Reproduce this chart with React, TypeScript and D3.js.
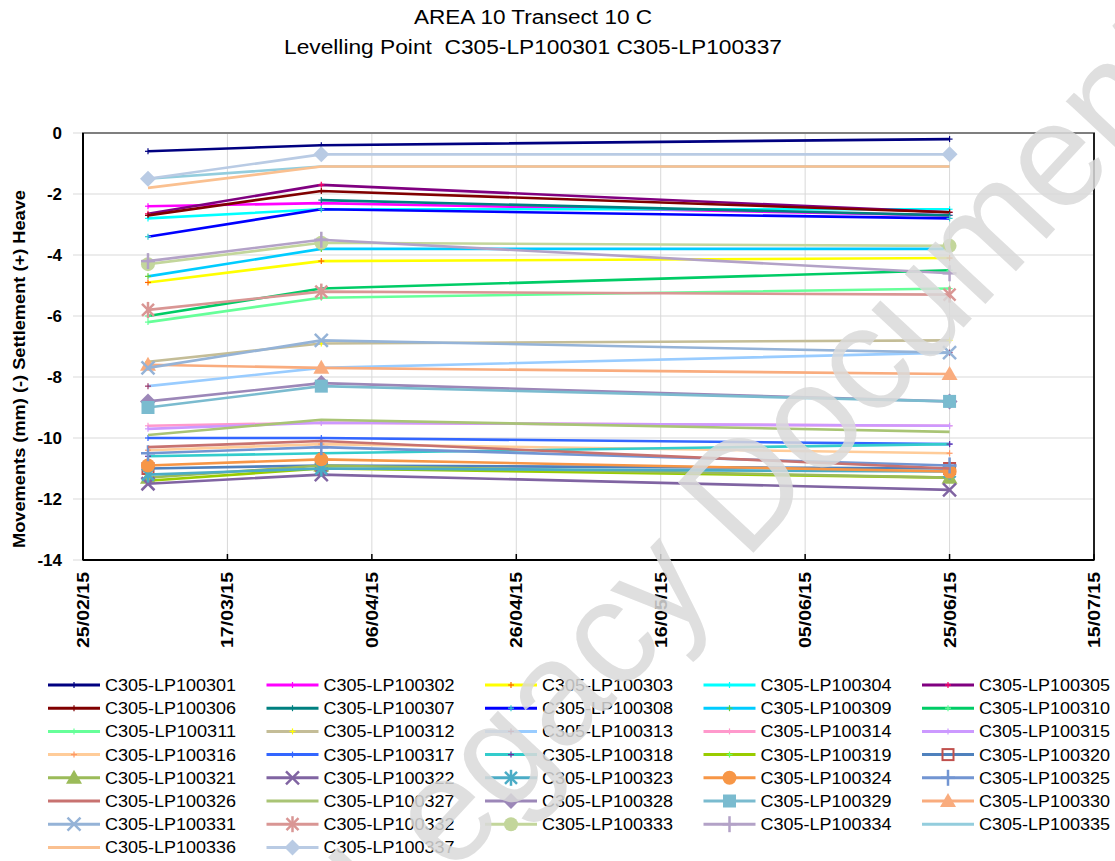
import React from 'react';
import * as d3 from 'd3';

// ---------------- DATA ----------------
const pointIds = [
  'C305-LP100301', 'C305-LP100302', 'C305-LP100303', 'C305-LP100304', 'C305-LP100305',
  'C305-LP100306', 'C305-LP100307', 'C305-LP100308', 'C305-LP100309', 'C305-LP100310',
  'C305-LP100311', 'C305-LP100312', 'C305-LP100313', 'C305-LP100314', 'C305-LP100315',
  'C305-LP100316', 'C305-LP100317', 'C305-LP100318', 'C305-LP100319', 'C305-LP100320',
  'C305-LP100321', 'C305-LP100322', 'C305-LP100323', 'C305-LP100324', 'C305-LP100325',
  'C305-LP100326', 'C305-LP100327', 'C305-LP100328', 'C305-LP100329', 'C305-LP100330',
  'C305-LP100331', 'C305-LP100332', 'C305-LP100333', 'C305-LP100334', 'C305-LP100335',
  'C305-LP100336', 'C305-LP100337',
];

const surveyDates = ['06/03/15', '30/03/15', '25/06/15'];

// movement (mm) per point, one array per survey date
const valuesSurvey1: (number | null)[] = [
  -0.6, -2.4, -4.9, -2.8, -2.65,
  -2.7, null, -3.4, -4.7, -6.0,
  -6.2, -7.5, -8.3, -9.6, -9.7,
  -10.4, -10.0, -10.6, -11.4, -11.0,
  -11.3, -11.5, -11.2, -10.9, -10.5,
  -10.3, -9.9, -8.8, -9.0, -7.6,
  -7.7, -5.8, -4.3, -4.2, -1.5,
  -1.8, -1.5,
];
const valuesSurvey2: (number | null)[] = [
  -0.4, -2.3, -4.2, -2.5, -1.7,
  -1.9, -2.2, -2.5, -3.8, -5.1,
  -5.4, -6.9, -7.7, -9.5, -9.5,
  -10.2, -10.0, -10.5, -11.0, -10.9,
  -10.9, -11.2, -11.0, -10.7, -10.3,
  -10.1, -9.4, -8.2, -8.3, -7.7,
  -6.8, -5.2, -3.6, -3.5, -1.1,
  -1.1, -0.7,
];
const valuesSurvey3: (number | null)[] = [
  -0.2, -2.7, -4.1, -2.5, -2.6,
  -2.6, -2.7, -2.8, -3.8, -4.5,
  -5.1, -6.8, -7.2, -9.6, -9.6,
  -10.5, -10.2, -10.2, -11.3, -11.0,
  -11.3, -11.7, -11.1, -11.1, -10.9,
  -11.0, -9.8, -8.8, -8.8, -7.9,
  -7.2, -5.3, -3.7, -4.6, -1.1,
  -1.1, -0.7,
];

const xTickLabels = ['25/02/15', '17/03/15', '06/04/15', '26/04/15', '16/05/15', '05/06/15', '25/06/15', '15/07/15'];
const yTickValues = [0, -2, -4, -6, -8, -10, -12, -14];

// ---------------- STYLES ----------------
const lineColors = [
  '#000080', '#FF00FF', '#FFFF00', '#00FFFF', '#800080',
  '#800000', '#008080', '#0000FF', '#00CCFF', '#00CC66',
  '#66FF99', '#C4BD97', '#99CCFF', '#FF99CC', '#CC99FF',
  '#FFCC99', '#3366FF', '#33CCCC', '#99CC00', '#4F81BD',
  '#9BBB59', '#8064A2', '#4BACC6', '#F79646', '#7295D2',
  '#C87270', '#A9C475', '#9C87B8', '#7ABBCF', '#F9AC7E',
  '#95B3D7', '#D99694', '#C3D69B', '#B3A2C7', '#93CDDD',
  '#FAC090', '#B9CBE4',
];
const markerKinds = [
  'tick', 'tick', 'tick', 'tick', 'tick',
  'tick', 'tick', 'tick', 'tick', 'tick',
  'tick', 'tick', 'tick', 'tick', 'tick',
  'tick', 'tick', 'tick', 'tick', 'opensquare',
  'triangle', 'x', 'asterisk', 'circle', 'plus',
  'none', 'none', 'diamond', 'square', 'triangle',
  'x', 'asterisk', 'circle', 'plus', 'none',
  'none', 'diamond',
];
const markerColors = [
  '#000080', '#FF00FF', '#FF6600', '#00FFFF', '#FF0066',
  '#800000', '#008080', '#33CCCC', '#66CC33', '#66FF99',
  '#66FF99', '#FFFF00', '#993366', '#FF99CC', '#CC99FF',
  '#FF9966', '#3366FF', '#7030A0', '#66FF66', '#C0504D',
  '#9BBB59', '#8064A2', '#4BACC6', '#F79646', '#7295D2',
  '#C87270', '#A9C475', '#9C87B8', '#7ABBCF', '#F9AC7E',
  '#95B3D7', '#D99694', '#C3D69B', '#B3A2C7', '#93CDDD',
  '#FAC090', '#B9CBE4',
];

// ---------------- LAYOUT ----------------
const W = 1115;
const H = 861;
const plot = { left: 83, right: 1094, top: 133, bottom: 560 };
const legend = { x0: 48, colW: 218.5, y0: 685, rowH: 23.2, lineLen: 52, cols: 5 };
const FONT = "'Liberation Sans', Arial, sans-serif";

const parseDate = d3.utcParse('%d/%m/%y');

function Marker({ kind, color, x, y }: { kind: string; color: string; x: number; y: number }) {
  switch (kind) {
    case 'tick':
      return (
        <g stroke={color} strokeWidth={1.2}>
          <line x1={x - 3} x2={x + 3} y1={y} y2={y} />
          <line x1={x} x2={x} y1={y - 3} y2={y + 3} />
        </g>
      );
    case 'opensquare':
      return <rect x={x - 5.5} y={y - 5.5} width={11} height={11} fill="none" stroke={color} strokeWidth={2} />;
    case 'square':
      return <rect x={x - 6.5} y={y - 6.5} width={13} height={13} fill={color} />;
    case 'circle':
      return <circle cx={x} cy={y} r={7} fill={color} />;
    case 'triangle':
      return <path d={`M${x},${y - 8}L${x + 8},${y + 6}L${x - 8},${y + 6}Z`} fill={color} />;
    case 'diamond':
      return <path d={`M${x},${y - 8}L${x + 8},${y}L${x},${y + 8}L${x - 8},${y}Z`} fill={color} />;
    case 'x':
      return (
        <g stroke={color} strokeWidth={2.5}>
          <line x1={x - 6.5} x2={x + 6.5} y1={y - 6.5} y2={y + 6.5} />
          <line x1={x - 6.5} x2={x + 6.5} y1={y + 6.5} y2={y - 6.5} />
        </g>
      );
    case 'plus':
      return (
        <g stroke={color} strokeWidth={2.5}>
          <line x1={x - 7} x2={x + 7} y1={y} y2={y} />
          <line x1={x} x2={x} y1={y - 8} y2={y + 8} />
        </g>
      );
    case 'asterisk':
      return (
        <g stroke={color} strokeWidth={2.5}>
          <line x1={x - 6} x2={x + 6} y1={y - 6} y2={y + 6} />
          <line x1={x - 6} x2={x + 6} y1={y + 6} y2={y - 6} />
          <line x1={x} x2={x} y1={y - 8} y2={y + 8} />
        </g>
      );
    default:
      return null;
  }
}

export default function App() {
  const xDomain = [parseDate(xTickLabels[0])!, parseDate(xTickLabels[xTickLabels.length - 1])!];
  const x = d3.scaleUtc().domain(xDomain).range([plot.left, plot.right]);
  const y = d3.scaleLinear().domain([-14, 0]).range([plot.bottom, plot.top]);
  const dates = surveyDates.map((d) => parseDate(d)!);
  const surveys = [valuesSurvey1, valuesSurvey2, valuesSurvey3];

  const series = pointIds.map((id, i) => ({
    id,
    color: lineColors[i],
    kind: markerKinds[i],
    mColor: markerColors[i],
    pts: dates.map((d, j) => ({ date: d, v: surveys[j][i] })),
  }));

  const line = d3
    .line<{ date: Date; v: number | null }>()
    .defined((d) => d.v !== null)
    .x((d) => x(d.date))
    .y((d) => y(d.v as number));

  return (
    <svg width={W} height={H} style={{ position: 'absolute', left: 0, top: 0, background: '#fff' }} fontFamily={FONT}>
      <rect width={W} height={H} fill="#fff" />
      {/* titles */}
      <text x={533} y={24} textAnchor="middle" fontSize={20} textLength={238} lengthAdjust="spacingAndGlyphs">
        AREA 10 Transect 10 C
      </text>
      <text x={533} y={54} textAnchor="middle" fontSize={20} textLength={498} lengthAdjust="spacingAndGlyphs" style={{ whiteSpace: 'pre' }}>
        {'Levelling Point  C305-LP100301 C305-LP100337'}
      </text>

      {/* grid */}
      <g stroke="#d9d9d9" strokeWidth={1}>
        {yTickValues.map((v) => (
          <line key={'gy' + v} x1={plot.left - 10} x2={plot.right} y1={y(v)} y2={y(v)} />
        ))}
        {xTickLabels.map((t) => (
          <line key={'gx' + t} x1={x(parseDate(t)!)} x2={x(parseDate(t)!)} y1={plot.top} y2={plot.bottom} />
        ))}
      </g>
      {/* frame */}
      <rect x={plot.left} y={plot.top} width={plot.right - plot.left} height={plot.bottom - plot.top} fill="none" stroke="#7f7f7f" strokeWidth={2} />
      <line x1={plot.left} x2={plot.left} y1={plot.top} y2={plot.bottom} stroke="#000" strokeWidth={2} />
      <line x1={plot.left} x2={plot.right} y1={plot.bottom} y2={plot.bottom} stroke="#000" strokeWidth={2} />
      <line x1={plot.right} x2={plot.right} y1={plot.top} y2={plot.bottom} stroke="#000" strokeWidth={1.5} />
      {xTickLabels.map((t) => (
        <line key={'xt' + t} x1={x(parseDate(t)!)} x2={x(parseDate(t)!)} y1={plot.bottom} y2={plot.bottom - 6} stroke="#000" strokeWidth={1.5} />
      ))}

      {/* y tick labels */}
      {yTickValues.map((v) => (
        <text key={'yl' + v} x={62} y={y(v) + 6} textAnchor="end" fontSize={17} fontWeight="bold">
          {v}
        </text>
      ))}
      <text
        transform={`translate(25,${369}) rotate(-90)`}
        textAnchor="middle"
        fontSize={16}
        fontWeight="bold"
        textLength={358}
        lengthAdjust="spacingAndGlyphs"
      >
        Movements (mm) (-) Settlement (+) Heave
      </text>

      {/* x tick labels */}
      {xTickLabels.map((t) => (
        <text
          key={'xl' + t}
          transform={`translate(${x(parseDate(t)!) + 6},${572}) rotate(-90)`}
          textAnchor="end"
          fontSize={17}
          fontWeight="bold"
          textLength={76}
          lengthAdjust="spacingAndGlyphs"
        >
          {t}
        </text>
      ))}

      {/* series */}
      {series.map((s) => (
        <g key={s.id}>
          <path d={line(s.pts) || ''} fill="none" stroke={s.color} strokeWidth={2.6} strokeLinejoin="round" />
          {s.pts
            .filter((p) => p.v !== null)
            .map((p, j) => (
              <Marker key={j} kind={s.kind} color={s.mColor} x={x(p.date)} y={y(p.v as number)} />
            ))}
        </g>
      ))}

      {/* legend */}
      {series.map((s, i) => {
        const cx = legend.x0 + (i % legend.cols) * legend.colW;
        const cy = legend.y0 + Math.floor(i / legend.cols) * legend.rowH;
        return (
          <g key={'lg' + s.id}>
            <line x1={cx} x2={cx + legend.lineLen} y1={cy} y2={cy} stroke={s.color} strokeWidth={3} />
            <Marker kind={s.kind} color={s.mColor} x={cx + legend.lineLen / 2} y={cy} />
            <text x={cx + legend.lineLen + 5} y={cy + 6} fontSize={17} textLength={131} lengthAdjust="spacingAndGlyphs">
              {s.id}
            </text>
          </g>
        );
      })}

      {/* watermark */}
      <text
        transform="translate(798,505) rotate(-47)"
        textAnchor="middle"
        fontSize={150}
        fill="#dadada"
        opacity={0.85}
        textLength={1180}
        lengthAdjust="spacingAndGlyphs"
      >
        Legacy Document
      </text>
    </svg>
  );
}
